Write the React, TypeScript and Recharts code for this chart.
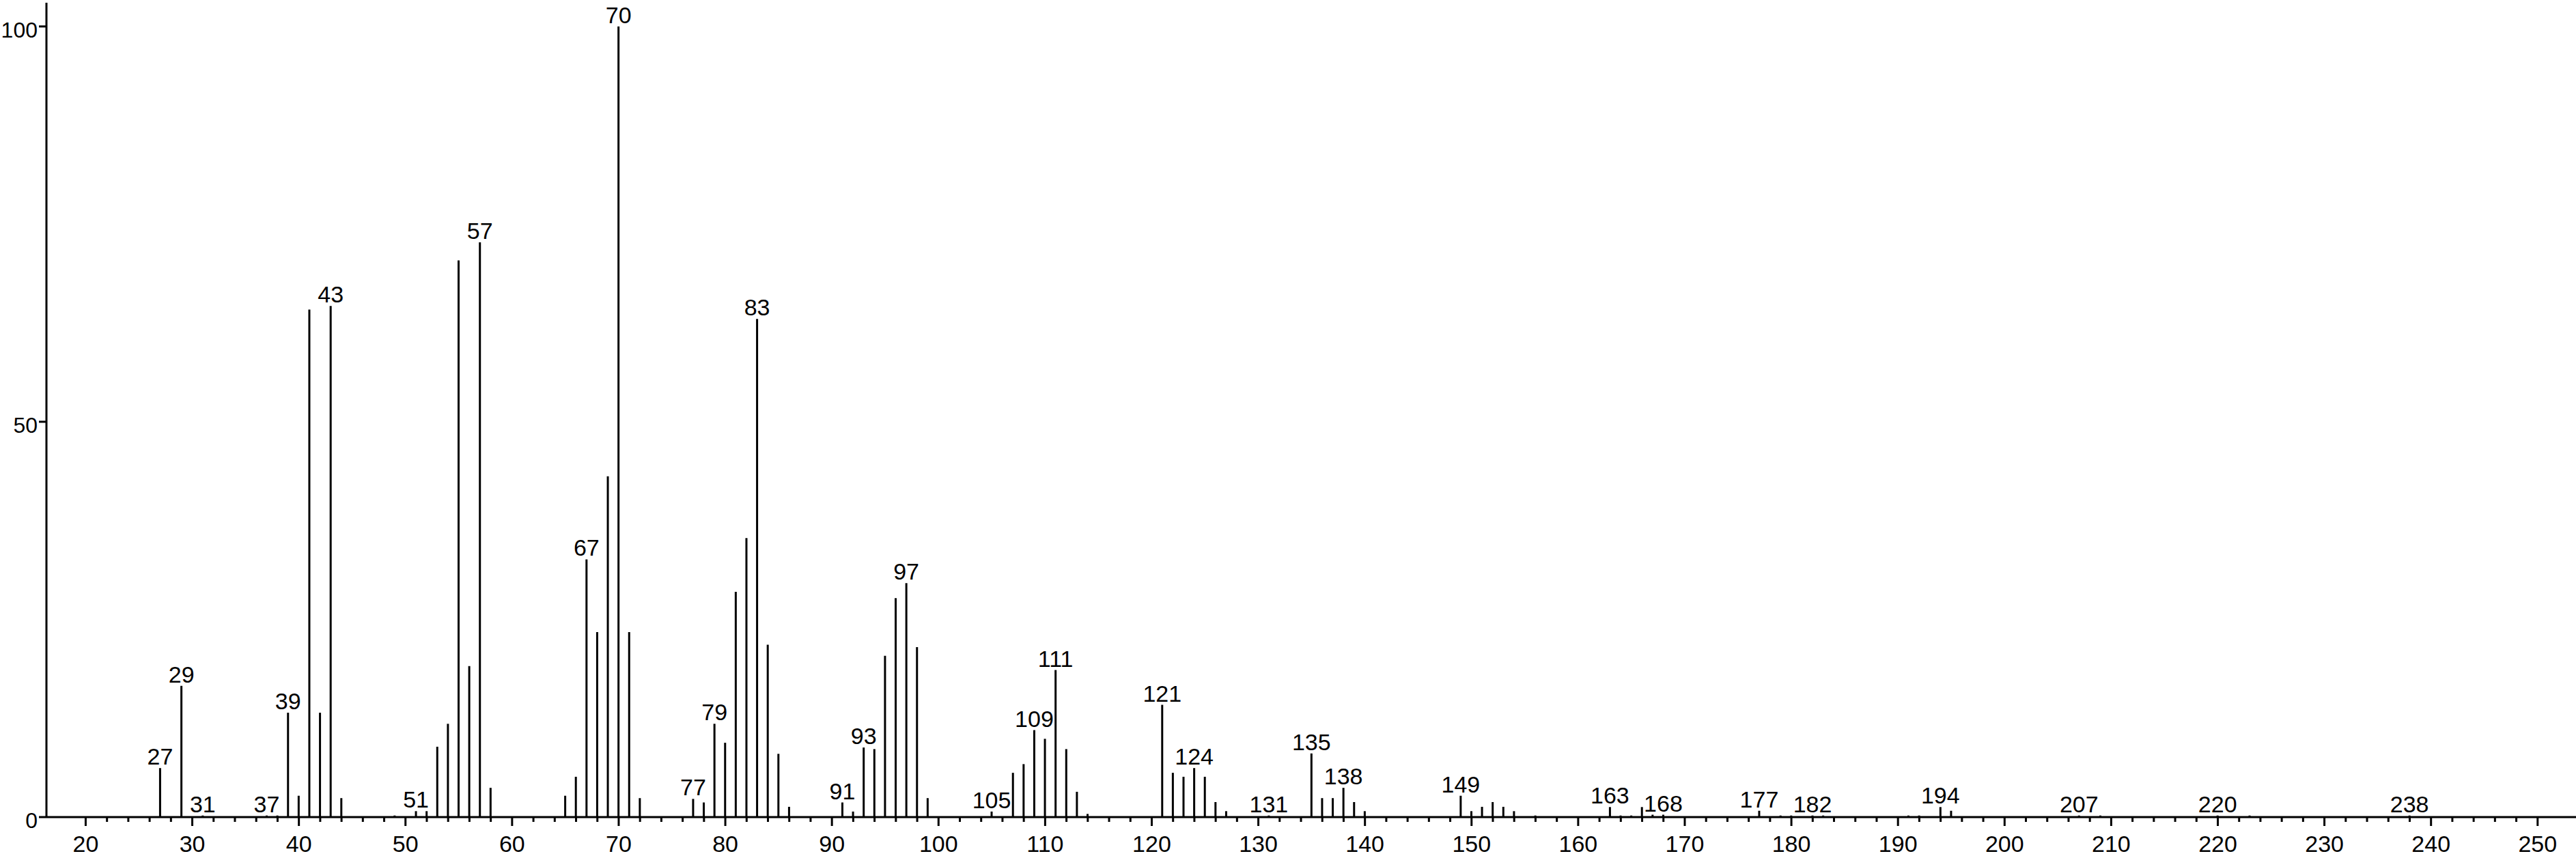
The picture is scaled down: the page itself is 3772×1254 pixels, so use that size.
import React from "react";
import { BarChart, Bar, XAxis, YAxis, LabelList } from "recharts";

const mzValues: number[] = [
  27, 29, 31, 37, 38, 39, 40, 41, 42, 43, 44, 49, 51, 52, 53, 54, 55, 56, 57, 58,
  65, 66, 67, 68, 69, 70, 71, 72, 77, 78, 79, 80, 81, 82, 83, 84, 85, 86,
  91, 92, 93, 94, 95, 96, 97, 98, 99, 105, 107, 108, 109, 110, 111, 112, 113, 114,
  121, 122, 123, 124, 125, 126, 127, 131, 135, 136, 137, 138, 139, 140,
  149, 150, 151, 152, 153, 154, 156, 163, 164, 165, 166, 167, 168,
  177, 179, 180, 182, 183, 191, 192, 194, 195, 207, 209, 220, 223, 238,
];

const intensities: number[] = [
  6.2, 16.6, 0.2, 0.2, 0.2, 13.2, 2.7, 64.2, 13.2, 64.65, 2.4, 0.2, 0.75, 0.75, 8.9, 11.8, 70.4, 19.1, 72.7, 3.7,
  2.7, 5.1, 32.6, 23.4, 43.1, 100, 23.4, 2.4, 2.3, 1.85, 11.8, 9.4, 28.5, 35.3, 63.0, 21.8, 8.0, 1.3,
  1.85, 0.7, 8.8, 8.6, 20.4, 27.7, 29.6, 21.5, 2.4, 0.7, 5.6, 6.7, 11.0, 9.9, 18.6, 8.6, 3.2, 0.4,
  14.2, 5.6, 5.1, 6.2, 5.1, 1.9, 0.75, 0.2, 8.05, 2.4, 2.4, 3.7, 1.9, 0.75,
  2.7, 0.75, 1.3, 1.9, 1.3, 0.75, 0.2, 1.27, 0.2, 0.2, 1.27, 0.3, 0.3,
  0.8, 0.2, 0.2, 0.2, 0.2, 0.2, 0.2, 1.27, 0.8, 0.2, 0.2, 0.2, 0.2, 0.2,
];

const labeledPeaks: number[] = [
  27, 29, 31, 37, 39, 43, 51, 57, 67, 70, 77, 79, 83, 91, 93, 97, 105, 109, 111,
  121, 124, 131, 135, 138, 149, 163, 168, 177, 182, 194, 207, 220, 238,
];

const xTicks: number[] = [];
for (let v = 20; v <= 250; v += 2) xTicks.push(v);
const yTicks: number[] = [0, 50, 100];

const data = mzValues.map((mz, i) => ({
  mz,
  intensity: intensities[i],
  label: labeledPeaks.includes(mz) ? String(mz) : "",
}));

const FONT = "'Liberation Sans', Arial, Helvetica, sans-serif";

const XTick = (props: any) => {
  const { x, y, payload } = props;
  const v = payload.value;
  const major = v % 10 === 0;
  return (
    <g>
      <line x1={x} x2={x} y1={y} y2={y + (major ? 13 : 7)} stroke="#000" strokeWidth={3} />
      {major && (
        <text x={x} y={y + 51} textAnchor="middle" fontSize={34} fontFamily={FONT} fill="#000">
          {v}
        </text>
      )}
    </g>
  );
};

const YTick = (props: any) => {
  const { x, y, payload } = props;
  return (
    <g>
      <line x1={x - 11} x2={x} y1={y} y2={y} stroke="#000" strokeWidth={3} />
      <text x={x - 13} y={y + 16} textAnchor="end" fontSize={32} fontFamily={FONT} fill="#000">
        {payload.value}
      </text>
    </g>
  );
};

const PeakLabel = (props: any) => {
  const { x, y, width, value } = props;
  if (!value) return null;
  return (
    <text x={Number(x) + Number(width) / 2} y={Number(y) - 5} textAnchor="middle" fontSize={34} fontFamily={FONT} fill="#000">
      {value}
    </text>
  );
};

export default function App() {
  return (
    <div style={{ position: "absolute", left: 0, top: 0, background: "#fff" }}>
      <BarChart width={3772} height={1254} data={data} margin={{ top: 4, right: 0, bottom: 0, left: 0 }}>
        <XAxis
          type="number"
          dataKey="mz"
          domain={[16.32, 253.6]}
          allowDataOverflow
          ticks={xTicks}
          interval={0}
          tickLine={false}
          tickSize={0}
          tickMargin={0}
          tick={<XTick />}
          axisLine={{ stroke: "#000", strokeWidth: 3 }}
          height={57}
        />
        <YAxis
          type="number"
          domain={[0, 103]}
          allowDataOverflow
          ticks={yTicks}
          interval={0}
          tickLine={false}
          tickSize={0}
          tickMargin={0}
          tick={<YTick />}
          axisLine={{ stroke: "#000", strokeWidth: 3 }}
          width={68}
        />
        <Bar dataKey="intensity" fill="#000" barSize={3} isAnimationActive={false}>
          <LabelList dataKey="label" content={<PeakLabel />} />
        </Bar>
      </BarChart>
    </div>
  );
}
